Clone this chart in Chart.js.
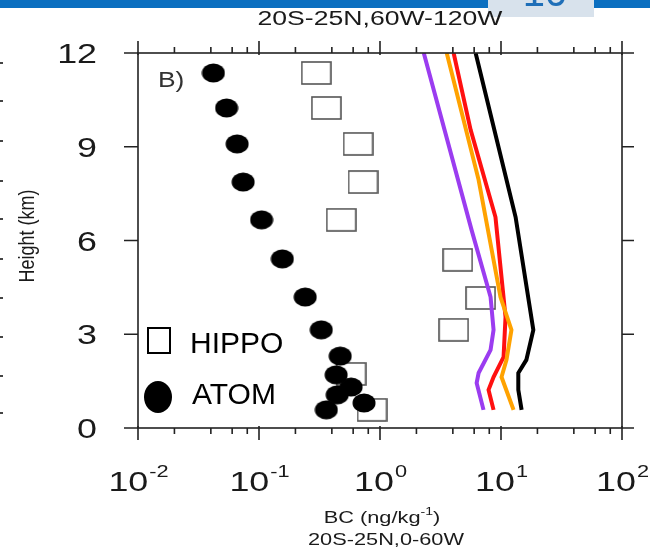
<!DOCTYPE html>
<html>
<head>
<meta charset="utf-8">
<script src="https://cdn.jsdelivr.net/npm/chart.js@4.4.1/dist/chart.umd.min.js"></script>
<style>
  html, body { margin: 0; padding: 0; background: #fff; }
  canvas { display: block; }
</style>
</head>
<body>
<canvas id="chart" width="650" height="547"></canvas>
<script>
// ATOM observations (black dots)
const atomBC = [0.042, 0.054, 0.066, 0.074, 0.105, 0.156, 0.241, 0.327, 0.469, 0.434, 0.577, 0.443, 0.738, 0.36];
const atomHeight = [11.36, 10.24, 9.09, 7.87, 6.66, 5.41, 4.19, 3.14, 2.30, 1.70, 1.31, 1.06, 0.80, 0.58];

// HIPPO observations (open squares)
const hippoBC = [0.297, 0.36, 0.659, 0.724, 0.478, 4.39, 6.78, 4.06, 0.577, 0.859];
const hippoHeight = [11.36, 10.24, 9.09, 7.87, 6.66, 5.38, 4.16, 3.14, 1.73, 0.58];

// model profiles
const purpleBC = [2.30, 5.71, 8.2, 8.68, 8.2, 6.53, 6.29, 7.17];
const purpleHeight = [12, 6.34, 4.19, 3.14, 2.5, 1.76, 1.44, 0.58];
const orangeBC = [3.56, 6.53, 9.9, 12.2, 11.1, 10.1, 12.7];
const orangeHeight = [12, 7.94, 4.19, 3.14, 2.18, 1.63, 0.58];
const redBC = [4.06, 5.61, 9.0, 10.9, 10.5, 8.68, 7.89, 8.68];
const redHeight = [12, 9.54, 6.75, 3.55, 2.27, 1.63, 1.22, 0.58];
const blackBC = [6.17, 13.2, 18.5, 16.2, 13.9, 13.9, 14.8];
const blackHeight = [12, 6.75, 3.14, 2.18, 1.76, 1.22, 0.58];

const xMajor = [0.01, 0.1, 1, 10, 100];
const xExp = ["-2", "-1", "0", "1", "2"];
const yTicks = [0, 3, 6, 9, 12];

function pts(xs, ys) {
  return xs.map((v, i) => ({ x: v, y: ys[i] }));
}

// marker images
function ellipseImg(w, h) {
  const c = document.createElement("canvas");
  c.width = w; c.height = h;
  const g = c.getContext("2d");
  g.fillStyle = "#000";
  g.beginPath();
  g.ellipse(w / 2, h / 2, w / 2 - 0.5, h / 2 - 0.5, 0, 0, Math.PI * 2);
  g.fill();
  return c;
}
function rectImg(w, h) {
  const c = document.createElement("canvas");
  c.width = w; c.height = h;
  const g = c.getContext("2d");
  g.strokeStyle = "#555";
  g.lineWidth = 1.6;
  g.strokeRect(1, 1, w - 2, h - 2);
  return c;
}

const FONT = "'Liberation Sans', Arial, sans-serif";
const SX = 1.28; // figure text is stretched sideways

function sText(ctx, text, x, y, size, align, sx) {
  ctx.save();
  ctx.font = size + "px " + FONT;
  ctx.translate(x, y);
  ctx.scale(sx || SX, 1);
  ctx.textAlign = align || "left";
  ctx.textBaseline = "alphabetic";
  ctx.fillText(text, 0, 0);
  ctx.restore();
}
function textW(ctx, text, size, sx) {
  ctx.font = size + "px " + FONT;
  return ctx.measureText(text).width * (sx || SX);
}

const decorPlugin = {
  id: "decor",
  beforeDraw(chart) {
    const ctx = chart.ctx;
    ctx.save();
    ctx.fillStyle = "#fff";
    ctx.fillRect(0, 0, chart.width, chart.height);
    // header strip
    ctx.fillStyle = "#0b6fc0";
    ctx.fillRect(0, 0, 650, 8);
    ctx.fillStyle = "#d8e2ec";
    ctx.fillRect(488, 0, 106, 17);
    ctx.save();
    ctx.beginPath();
    ctx.rect(488, 0, 106, 17);
    ctx.clip();
    ctx.fillStyle = "#1f6fb8";
    ctx.font = "40px " + FONT;
    ctx.textAlign = "center";
    ctx.fillText("10", 545, 6);
    ctx.restore();
    // marks from neighbouring panel
    ctx.fillStyle = "#444";
    [62, 100, 140, 180, 218, 258, 297, 336, 375, 412].forEach(y => ctx.fillRect(0, y, 3, 2));
    ctx.restore();
  },
  afterDatasetsDraw(chart) {
    const ctx = chart.ctx;
    const a = chart.chartArea;
    const xs = chart.scales.x, ys = chart.scales.y;
    ctx.save();
    ctx.strokeStyle = "#222";
    ctx.fillStyle = "#222";
    ctx.lineWidth = 1.6;
    ctx.strokeRect(a.left, a.top, a.right - a.left, a.bottom - a.top);

    ctx.beginPath();
    // x ticks top and bottom
    for (let k = -2; k <= 2; k++) {
      const base = Math.pow(10, k);
      const px = xs.getPixelForValue(base);
      ctx.moveTo(px, a.bottom - 2); ctx.lineTo(px, a.bottom + 12);
      ctx.moveTo(px, a.top + 2); ctx.lineTo(px, a.top - 12);
      if (k < 2) {
        [2, 4, 6, 8].forEach(m => {
          const p = xs.getPixelForValue(m * base);
          ctx.moveTo(p, a.bottom); ctx.lineTo(p, a.bottom + 6);
          ctx.moveTo(p, a.top); ctx.lineTo(p, a.top - 6);
        });
      }
    }
    // y ticks left and right
    yTicks.forEach(v => {
      const py = ys.getPixelForValue(v);
      ctx.moveTo(a.left - 14, py); ctx.lineTo(a.left, py);
      ctx.moveTo(a.right, py); ctx.lineTo(a.right + 12, py);
    });
    ctx.stroke();

    ctx.fillStyle = "#1a1a1a";
    // x tick labels with exponent
    xMajor.forEach((v, i) => {
      const cx = xs.getPixelForValue(v);
      const w1 = textW(ctx, "10", 28), w2 = textW(ctx, xExp[i], 17);
      const x0 = cx - (w1 + w2) / 2;
      sText(ctx, "10", x0, 491, 28, "left");
      sText(ctx, xExp[i], x0 + w1 + 1, 477, 17, "left");
    });
    // y tick labels
    yTicks.forEach(v => {
      sText(ctx, String(v), 97, ys.getPixelForValue(v) + 10, 28, "right");
    });

    // titles
    sText(ctx, "20S-25N,60W-120W", 380, 25, 20, "center", 1.33);
    const bw1 = textW(ctx, "BC (ng/kg", 17), bw2 = textW(ctx, "-1", 11), bw3 = textW(ctx, ")", 17);
    let bx = 382 - (bw1 + bw2 + bw3) / 2;
    sText(ctx, "BC (ng/kg", bx, 523, 17, "left");
    sText(ctx, "-1", bx + bw1, 515, 11, "left");
    sText(ctx, ")", bx + bw1 + bw2, 523, 17, "left");
    sText(ctx, "20S-25N,0-60W", 386, 545, 17, "center");

    ctx.save();
    ctx.translate(34, 236);
    ctx.rotate(-Math.PI / 2);
    ctx.scale(1, 1.25);
    ctx.font = "18px " + FONT;
    ctx.textAlign = "center";
    ctx.fillText("Height (km)", 0, 0);
    ctx.restore();

    // panel label
    ctx.fillStyle = "#333";
    sText(ctx, "B)", 158, 87, 22, "left", 1.2);

    // legend
    ctx.strokeStyle = "#000";
    ctx.lineWidth = 2;
    ctx.strokeRect(148, 328, 22, 25);
    ctx.fillStyle = "#000";
    ctx.beginPath();
    ctx.ellipse(158, 397, 14, 16, 0, 0, Math.PI * 2);
    ctx.fill();
    ctx.font = "30px " + FONT;
    ctx.textAlign = "left";
    ctx.fillText("HIPPO", 190, 353);
    ctx.fillText("ATOM", 192, 404);
    ctx.restore();
  }
};

const lineStyle = { showLine: true, pointRadius: 0, borderWidth: 4, fill: false, tension: 0, order: 1 };

new Chart(document.getElementById("chart"), {
  type: "scatter",
  data: {
    datasets: [
      { label: "ATOM", data: pts(atomBC, atomHeight), pointStyle: ellipseImg(24, 20), order: 0 },
      Object.assign({ label: "purple", data: pts(purpleBC, purpleHeight), borderColor: "#9b3cf0" }, lineStyle),
      Object.assign({ label: "orange", data: pts(orangeBC, orangeHeight), borderColor: "#ffa200" }, lineStyle),
      Object.assign({ label: "red", data: pts(redBC, redHeight), borderColor: "#ff1010" }, lineStyle),
      Object.assign({ label: "black", data: pts(blackBC, blackHeight), borderColor: "#000" }, lineStyle),
      { label: "HIPPO", data: pts(hippoBC, hippoHeight), pointStyle: rectImg(31, 24), order: 2 }
    ]
  },
  options: {
    responsive: false,
    animation: false,
    layout: { padding: { left: 138, right: 28, top: 53, bottom: 119 } },
    plugins: { legend: { display: false }, tooltip: { enabled: false } },
    scales: {
      x: { type: "logarithmic", min: 0.01, max: 100, display: false },
      y: { type: "linear", min: 0, max: 12, display: false }
    }
  },
  plugins: [decorPlugin]
});
</script>
</body>
</html>
